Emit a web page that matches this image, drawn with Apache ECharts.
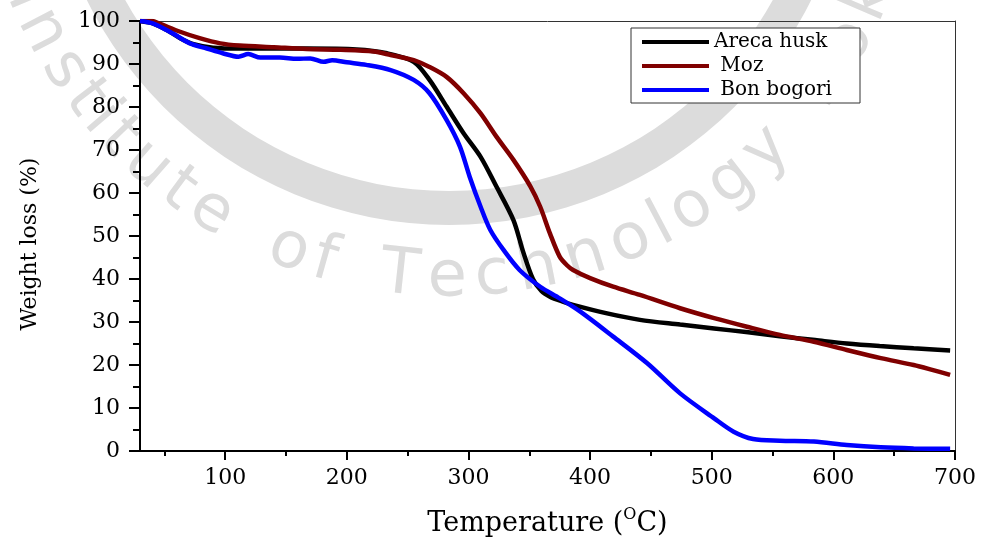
<!DOCTYPE html>
<html>
<head>
<meta charset="utf-8">
<title>TGA weight loss</title>
<script src="https://cdn.jsdelivr.net/npm/echarts@6/dist/echarts.min.js"></script>
<style>
  html, body { margin: 0; padding: 0; background: #fff; }
  #chart { width: 982px; height: 537px; }
</style>
</head>
<body>
<div id="chart"></div>
<script type="text/javascript">
// values: temperature (C) -> weight (%)
var arecaTemp = [30, 41, 52, 63, 74, 90, 112, 167, 208, 233, 255, 268, 282, 296, 310, 323, 337, 345, 353, 360, 367, 377, 386, 414, 441, 474, 502, 530, 556, 585, 611, 638, 666, 696];
var arecaWeight = [100, 99.4, 97.9, 96, 94.6, 93.8, 93.6, 93.6, 93.4, 92.5, 90.5, 86.3, 80.1, 73.9, 68.4, 61.5, 53.7, 46.3, 40, 37.2, 35.9, 34.8, 34.0, 32.0, 30.5, 29.4, 28.5, 27.6, 26.7, 25.8, 25.0, 24.4, 23.9, 23.4];

var mozTemp = [30, 40, 46, 63, 79, 96, 112, 140, 167, 195, 222, 236, 255, 268, 282, 296, 310, 323, 337, 351, 359, 367, 375, 381, 386, 400, 419, 441, 474, 502, 529, 556, 584, 611, 639, 666, 682, 696];
var mozWeight = [100, 100, 99.4, 97.5, 96, 94.8, 94.3, 93.9, 93.5, 93.3, 92.9, 92.1, 90.9, 89.3, 87, 83.2, 78.5, 73.1, 67.7, 61.5, 56.8, 50.6, 45.2, 43.2, 42.1, 40.2, 38.2, 36.3, 33.2, 30.9, 28.9, 27, 25.4, 23.5, 21.6, 20, 18.8, 17.7];

var bonTemp = [30, 41, 57, 71, 85, 98, 111, 119, 129, 145, 159, 170, 181, 188, 200, 216, 236, 255, 268, 282, 293, 301, 310, 318, 329, 342, 359, 375, 392, 419, 447, 474, 502, 518, 534, 556, 584, 611, 639, 666, 696];
var bonWeight = [100, 99.4, 97.1, 94.8, 93.6, 92.5, 91.7, 92.3, 91.5, 91.5, 91.2, 91.3, 90.5, 90.9, 90.4, 89.8, 88.6, 86.3, 83.2, 77, 70.8, 63.8, 56.8, 51.4, 46.7, 42.1, 38.2, 35.5, 32.4, 26.6, 20.4, 13.4, 7.6, 4.5, 2.8, 2.4, 2.2, 1.4, 0.85, 0.6, 0.5];

var seriesNames = ['Areca husk', 'Moz', 'Bon bogori'];
var seriesColors = ['#000000', '#800000', '#0000ff'];
var xMajorTicks = [100, 200, 300, 400, 500, 600, 700];
var xMinorTicks = [50, 150, 250, 350, 450, 550, 650];

var serif = '"DejaVu Serif", "Liberation Serif", serif';

function pairs(xs, ys) {
	var out = [];
	for (var i = 0; i < xs.length; i++) {
		out.push([xs[i], ys[i]]);
	}
	return out;
}

// faint institute watermark behind the plot
var markText = 'Institute of Technology Kok';
var markColor = '#dcdcdc';
function watermark() {
	var cx = 449, cy = -179, R = 458;
	var font = '64px "DejaVu Sans"';
	var ctx = document.createElement('canvas').getContext('2d');
	ctx.font = font;
	var centers = [], pos = 0;
	for (var i = 0; i < markText.length; i++) {
		var w = ctx.measureText(markText[i]).width;
		if (markText[i] === ' ') w *= 1.6;
		centers.push(pos + w / 2);
		pos += w;
	}
	var k = (147.1 - 46) / (centers[22] - centers[2]);
	var els = [{
		type: 'ring',
		shape: { cx: cx, cy: cy, r: 404, r0: 370 },
		style: { fill: markColor },
		z: -10,
		silent: true
	}];
	for (var j = 0; j < markText.length; j++) {
		if (markText[j] === ' ') continue;
		var th = 147.1 - (centers[j] - centers[2]) * k;
		var rad = th * Math.PI / 180;
		els.push({
			type: 'text',
			x: cx + R * Math.cos(rad),
			y: cy + R * Math.sin(rad),
			rotation: (90 - th) * Math.PI / 180,
			style: { text: markText[j], font: font, fill: markColor, align: 'center', verticalAlign: 'middle' },
			z: -10,
			silent: true
		});
	}
	return els;
}

var myChart = echarts.init(document.getElementById('chart'));

var option = {
	animation: false,
	backgroundColor: '#fff',
	graphic: { elements: watermark() },
	grid: { left: 140, right: 27, top: 21, bottom: 86, outerBoundsMode: 'none', containLabel: false },
	legend: {
		orient: 'vertical',
		left: 631,
		top: 28,
		padding: [4, 6, 3, 11],
		itemGap: 4,
		itemWidth: 67,
		itemHeight: 4,
		icon: 'rect',
		backgroundColor: '#fff',
		borderColor: '#333',
		borderWidth: 1,
		data: seriesNames,
		formatter: function (name) {
			return name === 'Areca husk' ? name : ' ' + name;
		},
		textStyle: { fontFamily: serif, fontSize: 20, color: '#000', lineHeight: 20, width: 140 }
	},
	xAxis: [
		{
			type: 'value',
			min: 30,
			max: 700,
			position: 'bottom',
			axisLine: { onZero: false, lineStyle: { color: '#000', width: 2 } },
			axisTick: { customValues: xMajorTicks, length: 9, lineStyle: { color: '#000', width: 2 } },
			axisLabel: { customValues: xMajorTicks, margin: 16, fontFamily: serif, fontSize: 22, color: '#000' },
			splitLine: { show: false },
			name: '{a|Temperature (}{b|O}{a|C)}',
			nameLocation: 'middle',
			nameGap: 56,
			nameTextStyle: {
				rich: {
					a: { fontFamily: serif, fontSize: 27, color: '#000', lineHeight: 34, verticalAlign: 'middle' },
					b: { fontFamily: serif, fontSize: 16, color: '#000', lineHeight: 18, verticalAlign: 'top' }
				}
			}
		},
		{
			type: 'value',
			min: 30,
			max: 700,
			position: 'bottom',
			axisLine: { show: false, onZero: false },
			axisTick: { customValues: xMinorTicks, length: 5, lineStyle: { color: '#000', width: 2 } },
			axisLabel: { show: false },
			splitLine: { show: false }
		},
		{
			type: 'value',
			min: 30,
			max: 700,
			position: 'top',
			axisLine: { onZero: false, lineStyle: { color: '#333', width: 1 } },
			axisTick: { show: false },
			axisLabel: { show: false },
			splitLine: { show: false }
		}
	],
	yAxis: [
		{
			type: 'value',
			min: 0,
			max: 100,
			interval: 10,
			position: 'left',
			axisLine: { show: true, onZero: false, lineStyle: { color: '#000', width: 2 } },
			axisTick: { show: true, length: 11, lineStyle: { color: '#000', width: 2 } },
			minorTick: { show: true, splitNumber: 2, length: 7, lineStyle: { color: '#000', width: 2 } },
			axisLabel: { margin: 20, fontFamily: serif, fontSize: 22, color: '#000' },
			splitLine: { show: false },
			name: 'Weight loss (%)',
			nameLocation: 'middle',
			nameGap: 99,
			nameTextStyle: { fontFamily: serif, fontSize: 22, color: '#000', padding: [0, 16, 0, 0] }
		},
		{
			type: 'value',
			min: 0,
			max: 100,
			position: 'right',
			axisLine: { show: true, onZero: false, lineStyle: { color: '#333', width: 1 } },
			axisTick: { show: false },
			axisLabel: { show: false },
			splitLine: { show: false }
		}
	],
	series: [
		{
			name: seriesNames[0],
			type: 'line',
			data: pairs(arecaTemp, arecaWeight),
			symbol: 'none',
			smooth: 0.3,
			lineStyle: { color: seriesColors[0], width: 4.5 },
			itemStyle: { color: seriesColors[0] }
		},
		{
			name: seriesNames[1],
			type: 'line',
			data: pairs(mozTemp, mozWeight),
			symbol: 'none',
			smooth: 0.3,
			lineStyle: { color: seriesColors[1], width: 4.5 },
			itemStyle: { color: seriesColors[1] }
		},
		{
			name: seriesNames[2],
			type: 'line',
			data: pairs(bonTemp, bonWeight),
			symbol: 'none',
			smooth: 0.3,
			lineStyle: { color: seriesColors[2], width: 4.5 },
			itemStyle: { color: seriesColors[2] }
		}
	]
};
myChart.setOption(option);
</script>
</body>
</html>
